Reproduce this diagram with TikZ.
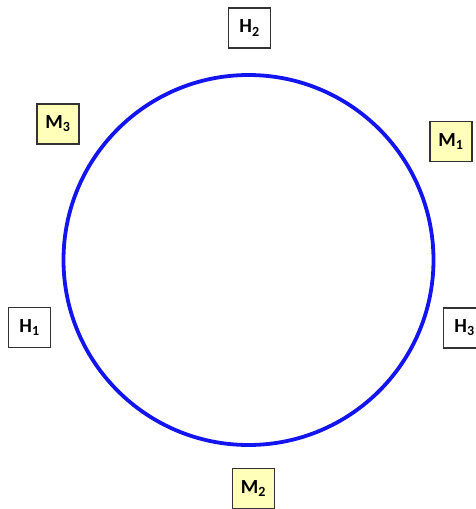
\documentclass[tikz,border=0pt]{standalone}
\usepackage{fontspec}
\setmainfont{Carlito}
\definecolor{boxyellow}{RGB}{255,255,185}
\definecolor{ringblue}{RGB}{20,20,240}
\tikzset{
  lbl/.style={draw=black!80, line width=1.2pt, minimum width=42pt, minimum height=40pt, inner sep=0pt, font=\fontsize{20}{24}\selectfont\bfseries},
  mbox/.style={lbl, fill=boxyellow},
  hbox/.style={lbl, fill=white},
}
\begin{document}
\begin{tikzpicture}[x=1pt,y=-1pt]
\useasboundingbox (0,0) rectangle (476,509);
\node[circle, draw=ringblue, line width=3.8pt, minimum size=370pt, inner sep=0pt] (ring) at (248.5,260) {};
\node[hbox] (h2) at (249.5,28) {H\textsubscript{2}};
\node[mbox] (m3) at (58,124) {M\textsubscript{3}};
\node[mbox] (m1) at (451,141.5) {M\textsubscript{1}};
\node[hbox] (h1) at (29.5,327.5) {H\textsubscript{1}};
\node[hbox] (h3) at (464.5,328) {H\textsubscript{3}};
\node[mbox] (m2) at (253.5,488.5) {M\textsubscript{2}};
\end{tikzpicture}
\end{document}
